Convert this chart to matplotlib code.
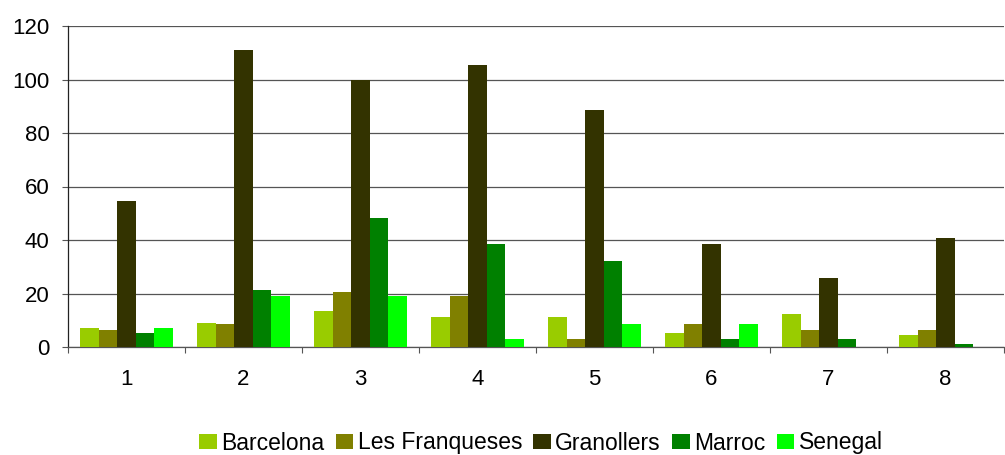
import matplotlib
matplotlib.use("Agg")
import matplotlib.pyplot as plt
import numpy as np
from matplotlib.ticker import FixedLocator, NullFormatter

plt.rcParams['font.family'] = ['Liberation Sans', 'DejaVu Sans']

categories = ['1', '2', '3', '4', '5', '6', '7', '8']
series_names = ['Barcelona', 'Les Franqueses', 'Granollers', 'Marroc', 'Senegal']
barcelona = [7.2, 9.1, 13.6, 11.2, 11.2, 5.1, 12.2, 4.5]
les_franqueses = [6.5, 8.5, 20.6, 19.0, 3.0, 8.6, 6.5, 6.5]
granollers = [54.6, 111.0, 100.0, 105.4, 88.7, 38.6, 25.9, 40.6]
marroc = [5.1, 21.2, 48.3, 38.6, 32.3, 3.0, 2.9, 1.0]
senegal = [7.2, 19.0, 19.0, 2.9, 8.6, 8.6, 0.0, 0.0]
colors = ['#99CC00', '#808000', '#333300', '#008000', '#00FF00']
y_ticks = [0, 20, 40, 60, 80, 100, 120]

values = [barcelona, les_franqueses, granollers, marroc, senegal]

fs = 16

fig = plt.figure(figsize=(10.05, 4.55), dpi=100)
ax = fig.add_axes([68 / 1005, 108 / 455, (1004 - 68) / 1005, (347 - 26) / 455])

x = np.arange(len(categories))
group_width = 0.79
bar_w = group_width / len(series_names)
for i, (name, vals, col) in enumerate(zip(series_names, values, colors)):
    offs = -group_width / 2 + bar_w * (i + 0.5)
    ax.bar(x + offs, vals, width=bar_w, color=col, label=name, zorder=3, linewidth=0)

ax.set_xlim(-0.5, len(categories) - 0.5)
ax.set_ylim(0, 120)
ax.set_yticks(y_ticks)
ax.set_yticklabels([str(v) for v in y_ticks])
ax.yaxis.grid(True, color='#555555', linewidth=0.9, zorder=0)

# category boundaries carry the tick marks, centres carry the labels
ax.xaxis.set_major_locator(FixedLocator(np.arange(len(categories) + 1) - 0.5))
ax.xaxis.set_major_formatter(NullFormatter())
ax.xaxis.set_minor_locator(FixedLocator(x))
ax.set_xticklabels(categories, minor=True)
ax.tick_params(axis='x', which='major', direction='out', length=4.5, width=0.8, color='#555555')
ax.tick_params(axis='x', which='minor', length=0, pad=16, labelsize=fs)
ax.tick_params(axis='y', direction='out', length=4.5, width=0.8, color='#555555', pad=9, labelsize=fs)

for side in ['top', 'right']:
    ax.spines[side].set_visible(False)
ax.spines['left'].set_color('#222222')
ax.spines['left'].set_linewidth(0.9)
ax.spines['bottom'].set_color('#555555')
ax.spines['bottom'].set_linewidth(0.9)

fig.legend(loc='center', bbox_to_anchor=(541 / 1005, 1 - 443 / 455), ncol=5, frameon=False,
           fontsize=16.5, handlelength=0.75, handleheight=0.65, handletextpad=0.2,
           columnspacing=0.5, borderaxespad=0)

fig.savefig('out.png', dpi=100)
